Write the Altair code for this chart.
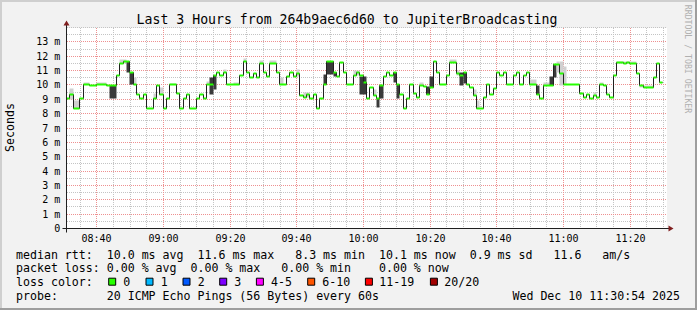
import altair as alt
import pandas as pd

MONO = "DejaVu Sans Mono"

# ---------------- data ----------------
start_clock = 8 * 60 + 30 + 54 / 60      # chart starts 08:30:54 (minutes after midnight)
span_minutes = 180
y_max = 14

# median rtt (ms): start minute of each step (minutes after 08:30:54) and its value
seg_start = [0, 1, 2, 4, 5, 7, 9, 12, 15, 16, 17, 19, 20, 21, 22, 23, 24, 26, 27, 28, 29,
             30, 31, 33, 34, 35, 36, 37, 39, 40, 41, 42, 44, 45, 46, 47, 48, 52, 53, 54, 55, 56, 57, 58, 59,
             60, 61, 63, 64, 66, 67, 68, 69, 70, 71, 72, 73, 74, 75, 76, 77, 78, 80, 81, 82, 83, 84, 86, 87, 88, 89,
             90, 91, 92, 93, 94, 95, 96, 97, 98, 99, 100, 101, 102, 103, 104, 105, 106, 107, 108, 109, 110, 111, 112, 114, 115, 117, 118, 119,
             120, 121, 122, 123, 125, 126, 127, 128, 129, 130, 131, 132, 134, 135, 136, 137, 138, 139, 141, 142, 143, 146, 148, 149,
             154, 155, 156, 157, 158, 159, 160, 161, 162, 163, 164, 165, 167, 168, 169, 171, 172, 173, 176, 177, 178]
seg_value = [9.05, 9.35, 8.35, 9.05, 10.0, 9.95, 10.0, 9.95, 10.65, 11.5, 11.6, 10.9, 10.0, 9.35, 9.05, 9.35, 8.35, 9.05, 9.95, 9.35, 8.35,
             9.05, 10.0, 9.4, 8.35, 9.05, 9.35, 8.35, 9.05, 9.35, 9.05, 10.0, 10.65, 10.85, 10.65, 10.85, 10.0, 10.65, 11.6, 10.85, 10.55, 10.8, 10.55, 11.5, 10.85,
             10.6, 11.5, 10.85, 10.0, 10.6, 10.85, 10.6, 10.8, 9.25, 9.1, 9.35, 9.05, 9.35, 8.35, 9.05, 10.0, 11.6, 10.9, 10.6, 11.55, 10.85, 10.0, 10.65, 10.9, 10.65, 10.15,
             9.05, 9.85, 9.25, 9.05, 9.95, 10.6, 10.85, 10.65, 10.9, 10.0, 9.35, 8.35, 9.05, 10.0, 9.4, 9.1, 9.95, 9.9, 9.35, 9.8, 11.6, 10.9, 10.0, 10.65, 11.55, 10.8, 10.65, 10.85,
             10.05, 9.85, 9.25, 8.35, 9.1, 10.0, 9.35, 9.75, 10.85, 10.65, 10.9, 10.0, 10.65, 10.9, 10.0, 10.65, 10.9, 10.0, 9.35, 9.05, 9.95, 11.45, 10.8, 10.0,
             9.4, 9.1, 9.35, 9.05, 9.25, 9.1, 10.0, 9.95, 9.35, 9.1, 10.65, 11.55, 11.5, 11.55, 11.5, 10.8, 9.95, 9.85, 10.55, 11.5, 10.15]
last_end = 178.7
assert len(seg_start) == len(seg_value)

# smoke (spread of the pings): start, end (minutes), low, high (ms), shade
smoke_start = [1, 2, 5, 9, 13, 16, 18, 19, 20, 26, 28, 31, 42, 43, 44, 47, 50, 53, 58, 61, 64, 69, 71,
               77, 78, 80, 86, 88, 92, 93, 94, 98, 99, 106, 108, 109, 115, 117, 118, 119, 122, 123,
               139, 141, 143, 145, 146, 147, 148, 149, 158, 160, 165, 172]
smoke_end = [2, 4, 7, 12, 15, 18, 19, 20, 21, 27, 29, 33, 43, 44, 45, 48, 52, 54, 59, 63, 65, 70, 73,
             78, 80, 81, 88, 90, 93, 94, 95, 99, 100, 107, 109, 110, 117, 118, 119, 120, 123, 124,
             141, 142, 145, 146, 147, 148, 149, 150, 159, 161, 171, 176]
smoke_low = [9.0, 8.35, 10.0, 10.0, 9.05, 11.5, 10.9, 10.0, 10.0, 9.05, 9.35, 10.0, 10.0, 9.3, 9.65, 10.85, 10.0, 11.6, 11.5, 11.5, 10.0, 10.6, 9.1,
             10.0, 10.7, 10.6, 10.65, 9.3, 9.25, 8.4, 9.05, 10.2, 9.05, 9.95, 9.35, 9.8, 11.55, 10.65, 9.95, 10.1, 9.25, 8.35,
             10.0, 9.35, 9.95, 9.95, 10.5, 10.85, 9.95, 10.0, 9.25, 10.0, 11.5, 9.85]
smoke_high = [9.75, 8.9, 10.15, 10.2, 9.95, 11.75, 11.6, 10.9, 10.5, 9.4, 9.85, 10.1, 10.25, 10.55, 10.65, 11.1, 10.2, 11.85, 11.7, 11.7, 10.5, 11.05, 9.45,
              10.7, 11.65, 10.9, 11.0, 10.6, 9.65, 9.05, 9.95, 10.9, 10.0, 10.2, 9.9, 10.6, 11.75, 11.0, 10.9, 10.85, 9.65, 8.95,
              10.35, 9.95, 10.2, 10.6, 11.45, 11.6, 11.6, 11.3, 9.45, 10.15, 11.65, 9.95]
smoke_shade = ["light", "light", "light", "light", "dark", "light", "dark", "dark", "light", "light", "light", "light", "light", "dark", "dark",
               "light", "light", "light", "light", "light", "light", "light", "light",
               "dark", "dark", "dark", "light", "dark", "light", "dark", "dark", "dark", "dark", "light", "dark", "dark", "light", "light",
               "dark", "dark", "light", "light",
               "light", "dark", "light", "dark", "dark", "light", "light", "light", "light", "light", "light", "light"]

loss_labels = ["0", "1", "2", "3", "4-5", "6-10", "11-19", "20/20"]
loss_colors = ["#26ff00", "#00b8ff", "#0059ff", "#7e00ff", "#ff00ff", "#ff5500", "#ff0000", "#a10000"]

title_text = "Last 3 Hours from 264b9aec6d60 to JupiterBroadcasting"
rtt_line = "median rtt:  10.0 ms avg  11.6 ms max   8.3 ms min  10.1 ms now  0.9 ms sd   11.6   am/s"
loss_line = "packet loss: 0.00 % avg  0.00 % max   0.00 % min    0.00 % now"
color_line = "loss color:"
probe_line = "probe:       20 ICMP Echo Pings (56 Bytes) every 60s"
stamp_line = "Wed Dec 10 11:30:54 2025"
y_title = "Seconds"
watermark = "RRDTOOL / TOBI OETIKER"

x_major_clock = list(range(520, 681, 20))   # 08:40 ... 11:20
x_minor_clock = list(range(515, 691, 5))    # every 5 minutes
y_major = list(range(1, 14))
y_minor = [k / 2 for k in range(1, 29)]
y_tick_values = list(range(0, 14))

# ---------------- layout ----------------
L, T = 66.5, 27.5
W, H = 600, 201
R = 697 - L - W
B = 310 - T - H

BACK = "#f2f2f2"
GRID = "#c4c4c4"
MGRID = "#ee9090"
ARROW = "#801f1f"

xs = alt.Scale(domain=[0, span_minutes], nice=False, zero=False, round=True)
ys = alt.Scale(domain=[0, y_max], nice=False, zero=False, round=True)

ONE = pd.DataFrame({"k": [0]})


def ptext(text, x, y, size=11.6, align="left", baseline="alphabetic", angle=0, color="#000000"):
    return alt.Chart(ONE).mark_text(
        text=text.replace(" ", "\u00a0"), align=align, baseline=baseline, angle=angle,
        font=MONO, fontSize=size, color=color,
    ).encode(x=alt.value(x - L), y=alt.value(y - T))


def prect(x0, y0, x1, y1, color):
    return alt.Chart(ONE).mark_rect(color=color).encode(
        x=alt.value(x0 - L), x2=alt.value(x1 - L), y=alt.value(y0 - T), y2=alt.value(y1 - T))


# grid (dotted)
vminor = alt.Chart(pd.DataFrame({"x": [m - start_clock for m in x_minor_clock]})).mark_rule(
    color=GRID, strokeDash=[1, 1], strokeWidth=1).encode(
    x=alt.X("x:Q", scale=xs, axis=None), y=alt.value(0.5), y2=alt.value(H))
hminor = alt.Chart(pd.DataFrame({"y": y_minor})).mark_rule(
    color=GRID, strokeDash=[1, 1], strokeWidth=1).encode(
    y=alt.Y("y:Q", scale=ys, axis=None), x=alt.value(0.5), x2=alt.value(W))
vmajor = alt.Chart(pd.DataFrame({"x": [m - start_clock for m in x_major_clock]})).mark_rule(
    color=MGRID, strokeDash=[1, 1], strokeWidth=1).encode(
    x=alt.X("x:Q", scale=xs, axis=None), y=alt.value(0.5), y2=alt.value(H))
hmajor = alt.Chart(pd.DataFrame({"y": y_major})).mark_rule(
    color=MGRID, strokeDash=[1, 1], strokeWidth=1).encode(
    y=alt.Y("y:Q", scale=ys, axis=None), x=alt.value(0.5), x2=alt.value(W))

# smoke
smoke_df = pd.DataFrame({"t0": smoke_start, "t1": smoke_end, "lo": smoke_low, "hi": smoke_high, "shade": smoke_shade})
smoke = alt.Chart(smoke_df).mark_rect().encode(
    x=alt.X("t0:Q", scale=xs, axis=None), x2="t1:Q",
    y=alt.Y("lo:Q", scale=ys, axis=None), y2="hi:Q",
    color=alt.Color("shade:N", scale=alt.Scale(domain=["light", "dark"], range=["#d0d0d0", "#3a3a3a"]), legend=None),
)

# median line (black steps) and loss-coloured median bars
line_df = pd.DataFrame({"t": seg_start + [last_end], "v": seg_value + [seg_value[-1]]})
median_line = alt.Chart(line_df).mark_line(interpolate="step-after", color="#202020", strokeWidth=1).encode(
    x=alt.X("t:Q", scale=xs, axis=None), y=alt.Y("v:Q", scale=ys, axis=None))

seg_df = pd.DataFrame({"t": seg_start, "t2": seg_start[1:] + [last_end], "v": seg_value})
median_loss = alt.Chart(seg_df).mark_rule(color=loss_colors[0], strokeWidth=2).encode(
    x=alt.X("t:Q", scale=xs, axis=None), x2="t2:Q", y=alt.Y("v:Q", scale=ys, axis=None))

# axis labels drawn through the scales
x_lab_df = pd.DataFrame({"x": [m - start_clock for m in x_major_clock],
                         "label": [f"{m // 60:02d}:{m % 60:02d}" for m in x_major_clock]})
x_labels = alt.Chart(x_lab_df).mark_text(align="center", baseline="alphabetic", font=MONO, fontSize=10,
                                         color="#000000").encode(
    x=alt.X("x:Q", scale=xs, axis=None), y=alt.value(242.3 - T), text="label:N")
y_lab_df = pd.DataFrame({"y": y_tick_values,
                         "label": ["0\u00a0\u00a0" if v == 0 else f"{v}\u00a0m" for v in y_tick_values]})
y_labels = alt.Chart(y_lab_df).mark_text(align="right", baseline="alphabetic", dy=3.6, font=MONO, fontSize=10,
                                         color="#000000").encode(
    y=alt.Y("y:Q", scale=ys, axis=None), x=alt.value(60.3 - L), text="label:N")

# axes with arrows
x_axis_line = alt.Chart(ONE).mark_rule(color="#1f1f1f", strokeWidth=1).encode(
    x=alt.value(-4), x2=alt.value(W + 4), y=alt.value(H))
y_axis_line = alt.Chart(ONE).mark_rule(color="#1f1f1f", strokeWidth=1).encode(
    x=alt.value(0), y=alt.value(-4), y2=alt.value(H + 4))
arrow_up = alt.Chart(ONE).mark_point(shape="M-1,0.8333L1,0.8333L0,-0.8333Z", filled=True, size=36,
                                     color=ARROW, opacity=1, strokeWidth=0).encode(
    x=alt.value(0), y=alt.value(-4.5))
arrow_right = alt.Chart(ONE).mark_point(shape="M-0.8333,-1L-0.8333,1L0.8333,0Z", filled=True, size=36,
                                        color=ARROW, opacity=1, strokeWidth=0).encode(
    x=alt.value(W + 4.5), y=alt.value(H))

# frame (3D border)
frame = [
    prect(0, 0, 697, 2, "#cfcfcf"),
    prect(0, 0, 2, 310, "#cfcfcf"),
    prect(0, 308, 697, 310, "#9e9e9e"),
    prect(695, 0, 697, 310, "#9e9e9e"),
]

# texts
texts = [
    ptext(title_text, 347, 23.5, size=13.2, align="center"),
    ptext(y_title, 10.5, 127.5, size=11.6, align="center", baseline="middle", angle=270),
    ptext(watermark, 686.5, 59, size=8.2, align="center", baseline="middle", angle=90, color="#b0b0b0"),
    ptext(rtt_line, 16, 258.5),
    ptext(loss_line, 16, 272.3),
    ptext(color_line, 16, 286.1),
    ptext(probe_line, 16, 300),
    ptext(stamp_line, 680, 300, align="right"),
]

# loss colour legend
box_cx = [112.2, 149.5, 186.5, 223.2, 259.9, 311.2, 368.9, 433.9]
lab_x = [123.3, 160.7, 197.7, 234.3, 271.0, 322.3, 379.3, 444.3]
swatch_df = pd.DataFrame({"label": loss_labels, "color": loss_colors,
                          "bx": [v - L for v in box_cx], "lx": [v - L for v in lab_x]})
swatches = alt.Chart(swatch_df).mark_square(size=49, stroke="#000000", strokeWidth=1, opacity=1).encode(
    x=alt.X("bx:Q", scale=None), y=alt.value(281.7 - T), fill=alt.Fill("color:N", scale=None))
swatch_labels = alt.Chart(swatch_df).mark_text(align="left", baseline="alphabetic", font=MONO,
                                               fontSize=11.6, color="#000000").encode(
    x=alt.X("lx:Q", scale=None), y=alt.value(286.1 - T), text="label:N")

chart = alt.layer(
    vminor, hminor, vmajor, hmajor, smoke, median_line, median_loss,
    x_axis_line, y_axis_line, arrow_up, arrow_right, x_labels, y_labels,
    *frame, *texts, swatches, swatch_labels,
).properties(
    width=W, height=H,
    padding={"left": L, "top": T, "right": R, "bottom": B},
    autosize=alt.AutoSizeParams(type="none"),
    background=BACK,
).configure_view(fill="white", stroke="transparent")

chart.save("out.html", embed_options={"renderer": "svg", "actions": False})
